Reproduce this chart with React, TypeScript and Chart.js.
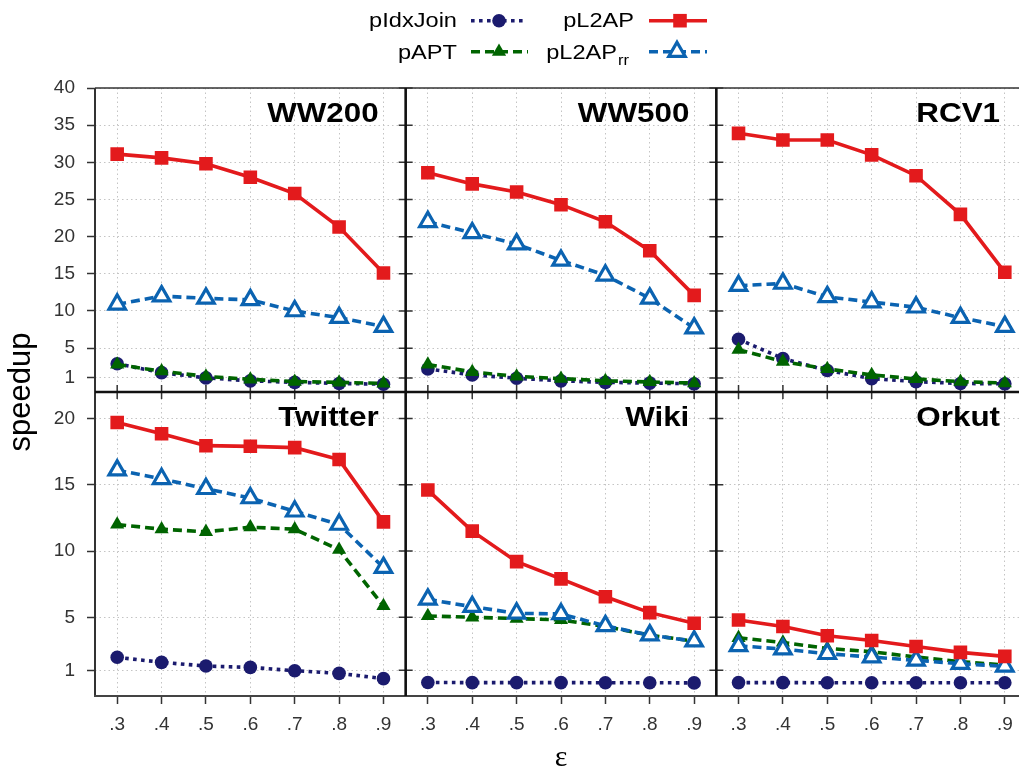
import React, { useEffect, useRef } from 'react';
import { Chart, registerables } from 'chart.js';

Chart.register(...registerables);

// ---------- data ----------
const eps = [0.3, 0.4, 0.5, 0.6, 0.7, 0.8, 0.9];
const xTickLabels = ['.3', '.4', '.5', '.6', '.7', '.8', '.9'];
const yTicksTop = [1, 5, 10, 15, 20, 25, 30, 35, 40];
const yTicksBottom = [1, 5, 10, 15, 20];
const panelTitles = ['WW200', 'WW500', 'RCV1', 'Twitter', 'Wiki', 'Orkut'];
const seriesNames = ['pIdxJoin', 'pAPT', 'pL2AP', 'pL2APrr'];

const ww200_pIdxJoin = [2.9, 1.7, 1.0, 0.6, 0.4, 0.25, 0.15];
const ww200_pAPT = [2.8, 1.9, 1.2, 0.8, 0.5, 0.4, 0.25];
const ww200_pL2AP = [31.1, 30.6, 29.8, 28.0, 25.8, 21.3, 15.1];
const ww200_pL2APrr = [10.9, 12.0, 11.7, 11.5, 10.0, 9.1, 7.9];

const ww500_pIdxJoin = [2.2, 1.4, 0.95, 0.6, 0.4, 0.3, 0.2];
const ww500_pAPT = [2.8, 1.8, 1.2, 0.9, 0.6, 0.45, 0.3];
const ww500_pL2AP = [28.6, 27.1, 26.0, 24.3, 22.0, 18.1, 12.1];
const ww500_pL2APrr = [22.0, 20.5, 19.0, 16.8, 14.8, 11.7, 7.7];

const rcv1_pIdxJoin = [6.2, 3.6, 2.0, 0.9, 0.5, 0.25, 0.2];
const rcv1_pAPT = [4.8, 3.2, 2.2, 1.4, 0.85, 0.5, 0.3];
const rcv1_pL2AP = [33.9, 33.0, 33.0, 31.0, 28.2, 23.0, 15.2];
const rcv1_pL2APrr = [13.4, 13.7, 11.9, 11.2, 10.5, 9.1, 7.9];

const twitter_pIdxJoin = [1.98, 1.6, 1.32, 1.22, 0.97, 0.77, 0.37];
const twitter_pAPT = [12.0, 11.65, 11.45, 11.8, 11.65, 10.1, 5.85];
const twitter_pL2AP = [19.7, 18.85, 17.95, 17.9, 17.8, 16.9, 12.2];
const twitter_pL2APrr = [16.1, 15.45, 14.7, 14.0, 13.0, 12.0, 8.75];

const wiki_pIdxJoin = [0.08, 0.07, 0.07, 0.07, 0.06, 0.06, 0.05];
const wiki_pAPT = [5.1, 5.0, 4.9, 4.8, 4.3, 3.65, 3.2];
const wiki_pL2AP = [14.6, 11.5, 9.2, 7.9, 6.55, 5.35, 4.55];
const wiki_pL2APrr = [6.35, 5.8, 5.3, 5.25, 4.35, 3.65, 3.2];

const orkut_pIdxJoin = [0.07, 0.07, 0.06, 0.06, 0.06, 0.06, 0.06];
const orkut_pAPT = [3.45, 3.1, 2.65, 2.4, 2.0, 1.65, 1.4];
const orkut_pL2AP = [4.8, 4.3, 3.6, 3.25, 2.8, 2.35, 2.05];
const orkut_pL2APrr = [2.85, 2.6, 2.25, 2.0, 1.75, 1.5, 1.3];

const panelSeries = [
  [ww200_pIdxJoin, ww200_pAPT, ww200_pL2AP, ww200_pL2APrr],
  [ww500_pIdxJoin, ww500_pAPT, ww500_pL2AP, ww500_pL2APrr],
  [rcv1_pIdxJoin, rcv1_pAPT, rcv1_pL2AP, rcv1_pL2APrr],
  [twitter_pIdxJoin, twitter_pAPT, twitter_pL2AP, twitter_pL2APrr],
  [wiki_pIdxJoin, wiki_pAPT, wiki_pL2AP, wiki_pL2APrr],
  [orkut_pIdxJoin, orkut_pAPT, orkut_pL2AP, orkut_pL2APrr],
];

// ---------- styles ----------
const NAVY = '#1b1b6e';
const GREEN = '#006400';
const RED = '#e31a1c';
const BLUE = '#0b63b1';

const seriesStyles: any[] = [
  {
    borderColor: NAVY, borderWidth: 3.6, borderDash: [3.6, 4.4],
    pointStyle: 'circle', pointRadius: 6.8, pointBackgroundColor: NAVY,
    pointBorderColor: NAVY, pointBorderWidth: 0, order: 3,
  },
  {
    borderColor: GREEN, borderWidth: 3.6, borderDash: [9, 5],
    pointStyle: 'triangle', pointRadius: 8.2, pointBackgroundColor: GREEN,
    pointBorderColor: GREEN, pointBorderWidth: 0, order: 2,
  },
  {
    borderColor: RED, borderWidth: 3.6, borderDash: [],
    pointStyle: 'rect', pointRadius: 9.6, pointBackgroundColor: RED,
    pointBorderColor: RED, pointBorderWidth: 0, order: 0,
  },
  {
    borderColor: BLUE, borderWidth: 3.6, borderDash: [9, 5],
    pointStyle: 'triangle', pointRadius: 9.5, pointBackgroundColor: '#ffffff',
    pointBorderColor: BLUE, pointBorderWidth: 3.2, order: 1,
  },
];

const FONT = 'Liberation Sans';
const xIds = ['x0', 'x1', 'x2'];
const yIds = ['yTop', 'yBot'];

function drawMarker(ctx: CanvasRenderingContext2D, st: any, x: number, y: number) {
  const r = st.pointRadius;
  ctx.save();
  ctx.setLineDash([]);
  ctx.beginPath();
  if (st.pointStyle === 'circle') {
    ctx.arc(x, y, r, 0, Math.PI * 2);
  } else if (st.pointStyle === 'rect') {
    const s = Math.SQRT1_2 * r;
    ctx.rect(x - s, y - s, 2 * s, 2 * s);
  } else {
    for (let k = 0; k < 3; k++) {
      const a = (k * 2 * Math.PI) / 3;
      const px = x + Math.sin(a) * r;
      const py = y - Math.cos(a) * r;
      if (k === 0) ctx.moveTo(px, py);
      else ctx.lineTo(px, py);
    }
    ctx.closePath();
  }
  ctx.fillStyle = st.pointBackgroundColor;
  ctx.fill();
  if (st.pointBorderWidth) {
    ctx.lineWidth = st.pointBorderWidth;
    ctx.strokeStyle = st.pointBorderColor;
    ctx.stroke();
  }
  ctx.restore();
}

function scaledText(ctx: CanvasRenderingContext2D, text: string, x: number, y: number, align: CanvasTextAlign, sx: number) {
  ctx.save();
  ctx.translate(x, y);
  ctx.scale(sx, 1);
  ctx.textAlign = align;
  ctx.textBaseline = 'alphabetic';
  ctx.fillText(text, 0, 0);
  ctx.restore();
}

const decorPlugin = {
  id: 'panelDecor',
  beforeDatasetsDraw(chart: any) {
    const ctx: CanvasRenderingContext2D = chart.ctx;
    const xs = xIds.map((id) => chart.scales[id]);
    const ys = yIds.map((id) => chart.scales[id]);
    const left = xs[0].left;
    const right = xs[2].right;
    const top = ys[0].top;
    const bottom = ys[1].bottom;
    const mid = ys[0].bottom;
    const rowTicks = [yTicksTop, yTicksBottom];
    ctx.save();
    ctx.setLineDash([]);
    // mirror ticks
    ctx.strokeStyle = '#333';
    ctx.lineWidth = 1.5;
    ctx.beginPath();
    [xs[1].left, xs[2].left].forEach((xd: number) => {
      ys.forEach((ys_: any, r: number) => {
        rowTicks[r].forEach((v) => {
          const py = ys_.getPixelForValue(v);
          ctx.moveTo(xd - 7, py);
          ctx.lineTo(xd + 7, py);
        });
      });
    });
    ys.forEach((ys_: any, r: number) => {
      rowTicks[r].forEach((v) => {
        const py = ys_.getPixelForValue(v);
        ctx.moveTo(right - 7, py);
        ctx.lineTo(right, py);
      });
    });
    xs.forEach((xsc: any) => {
      eps.forEach((e) => {
        const px = xsc.getPixelForValue(e);
        ctx.moveTo(px, mid - 7);
        ctx.lineTo(px, mid + 7);
      });
    });
    ctx.stroke();
    // outer border
    ctx.strokeStyle = '#333';
    ctx.lineWidth = 1.5;
    ctx.beginPath();
    ctx.moveTo(left, top);
    ctx.lineTo(right, top);
    ctx.stroke();
    ctx.lineWidth = 2;
    ctx.beginPath();
    ctx.moveTo(left, top);
    ctx.lineTo(left, bottom);
    ctx.moveTo(right, top);
    ctx.lineTo(right, bottom);
    ctx.stroke();
    ctx.strokeStyle = '#444';
    ctx.beginPath();
    ctx.moveTo(left - 1, bottom);
    ctx.lineTo(right, bottom);
    ctx.stroke();
    // dividers
    ctx.strokeStyle = '#111';
    ctx.lineWidth = 2.6;
    ctx.beginPath();
    ctx.moveTo(left, mid);
    ctx.lineTo(right, mid);
    [xs[1].left, xs[2].left].forEach((xd: number) => {
      ctx.moveTo(xd, top);
      ctx.lineTo(xd, bottom);
    });
    ctx.stroke();
    ctx.restore();
  },
  afterDraw(chart: any) {
    const ctx: CanvasRenderingContext2D = chart.ctx;
    const xs = xIds.map((id) => chart.scales[id]);
    const ys = yIds.map((id) => chart.scales[id]);
    ctx.save();
    ctx.fillStyle = '#000';
    // panel titles
    ctx.font = `bold 28px "${FONT}"`;
    panelTitles.forEach((t, p) => {
      const col = p % 3;
      const row = Math.floor(p / 3);
      scaledText(ctx, t, xs[col].right - 27, ys[row].top + 33.5, 'right', 1.12);
    });
    // y title
    ctx.font = `31px "${FONT}"`;
    ctx.save();
    ctx.translate(30, (ys[0].top + ys[1].bottom) / 2);
    ctx.rotate(-Math.PI / 2);
    ctx.textAlign = 'center';
    ctx.textBaseline = 'alphabetic';
    ctx.fillText('speedup', 0, 0);
    ctx.restore();
    // x title
    ctx.font = `30px "Liberation Serif"`;
    ctx.textAlign = 'center';
    ctx.textBaseline = 'alphabetic';
    ctx.fillText('ε', (xs[1].left + xs[1].right) / 2, 766);
    // legend
    const items = [
      { s: 0, tr: 457, base: 27, ly: 20.7, x1: 471, x2: 525, mx: 499 },
      { s: 2, tr: 634, base: 27, ly: 20.7, x1: 649, x2: 707, mx: 680 },
      { s: 1, tr: 457, base: 59, ly: 51.7, x1: 471, x2: 528, mx: 499 },
      { s: 3, tr: 617, base: 59, ly: 51.7, x1: 649, x2: 707, mx: 677 },
    ];
    items.forEach((it) => {
      const st = seriesStyles[it.s];
      const name = seriesNames[it.s];
      ctx.fillStyle = '#000';
      ctx.font = `20px "${FONT}"`;
      if (name.endsWith('rr')) {
        scaledText(ctx, name.slice(0, -2), it.tr, it.base, 'right', 1.18);
        ctx.font = `14px "${FONT}"`;
        scaledText(ctx, 'rr', it.tr + 1, it.base + 6, 'left', 1.18);
      } else {
        scaledText(ctx, name, it.tr, it.base, 'right', 1.18);
      }
      ctx.save();
      ctx.strokeStyle = st.borderColor;
      ctx.lineWidth = st.borderWidth;
      ctx.setLineDash(st.borderDash);
      ctx.beginPath();
      ctx.moveTo(it.x1, it.ly);
      ctx.lineTo(it.x2, it.ly);
      ctx.stroke();
      ctx.restore();
      drawMarker(ctx, st, it.mx, it.ly);
    });
    ctx.restore();
  },
};

function xScale() {
  return {
    type: 'linear',
    position: 'bottom',
    stack: 'cols',
    stackWeight: 1,
    min: 0.25,
    max: 0.95,
    afterBuildTicks: (s: any) => {
      s.ticks = eps.map((v) => ({ value: v }));
    },
    afterFit: (s: any) => {
      s.height = 74;
    },
    ticks: {
      autoSkip: false,
      maxRotation: 0,
      padding: 9,
      color: '#333',
      font: { family: FONT, size: 19 },
      callback: (v: number) => {
        const i = eps.findIndex((e) => Math.abs(e - v) < 1e-6);
        return i >= 0 ? xTickLabels[i] : '';
      },
    },
    grid: { color: '#c4c4c4', lineWidth: 1, tickLength: 8, tickColor: '#333', tickWidth: 1.5 },
    border: { display: false, dash: [1.5, 3] },
  };
}

function yScale(min: number, max: number, ticks: number[]) {
  return {
    type: 'linear',
    position: 'left',
    stack: 'rows',
    stackWeight: 1,
    min,
    max,
    afterBuildTicks: (s: any) => {
      s.ticks = ticks.map((v) => ({ value: v }));
    },
    afterFit: (s: any) => {
      s.width = 95;
    },
    ticks: {
      autoSkip: false,
      padding: 12,
      color: '#333',
      font: { family: FONT, size: 19 },
      callback: (v: number) => String(v),
    },
    grid: { color: '#c4c4c4', lineWidth: 1, tickLength: 8, tickColor: '#333', tickWidth: 1.5 },
    border: { display: false, dash: [1.5, 3] },
  };
}

export default function App() {
  const ref = useRef<HTMLCanvasElement | null>(null);
  useEffect(() => {
    if (!ref.current) return;
    const datasets: any[] = [];
    panelSeries.forEach((series, p) => {
      const col = p % 3;
      const row = Math.floor(p / 3);
      series.forEach((vals, s) => {
        datasets.push({
          label: seriesNames[s],
          data: eps.map((e, i) => ({ x: e, y: vals[i] })),
          xAxisID: xIds[col],
          yAxisID: yIds[row],
          fill: false,
          tension: 0,
          ...seriesStyles[s],
        });
      });
    });
    const chart = new Chart(ref.current, {
      type: 'line',
      data: { datasets },
      options: {
        animation: false,
        responsive: false,
        maintainAspectRatio: false,
        layout: { padding: { top: 88, right: 13, bottom: 0, left: 0 } },
        plugins: { legend: { display: false }, tooltip: { enabled: false }, title: { display: false } },
        scales: {
          x0: xScale(),
          x1: xScale(),
          x2: xScale(),
          yBot: yScale(-0.94, 22, yTicksBottom),
          yTop: yScale(-0.9, 40, yTicksTop),
        } as any,
      },
      plugins: [decorPlugin],
    } as any);
    return () => chart.destroy();
  }, []);
  return (
    <div style={{ position: 'absolute', left: 0, top: 0, width: 1019, height: 770, overflow: 'hidden', background: '#fff' }}>
      <canvas ref={ref} width={1040} height={770} style={{ width: 1040, height: 770, display: 'block' }} />
    </div>
  );
}
